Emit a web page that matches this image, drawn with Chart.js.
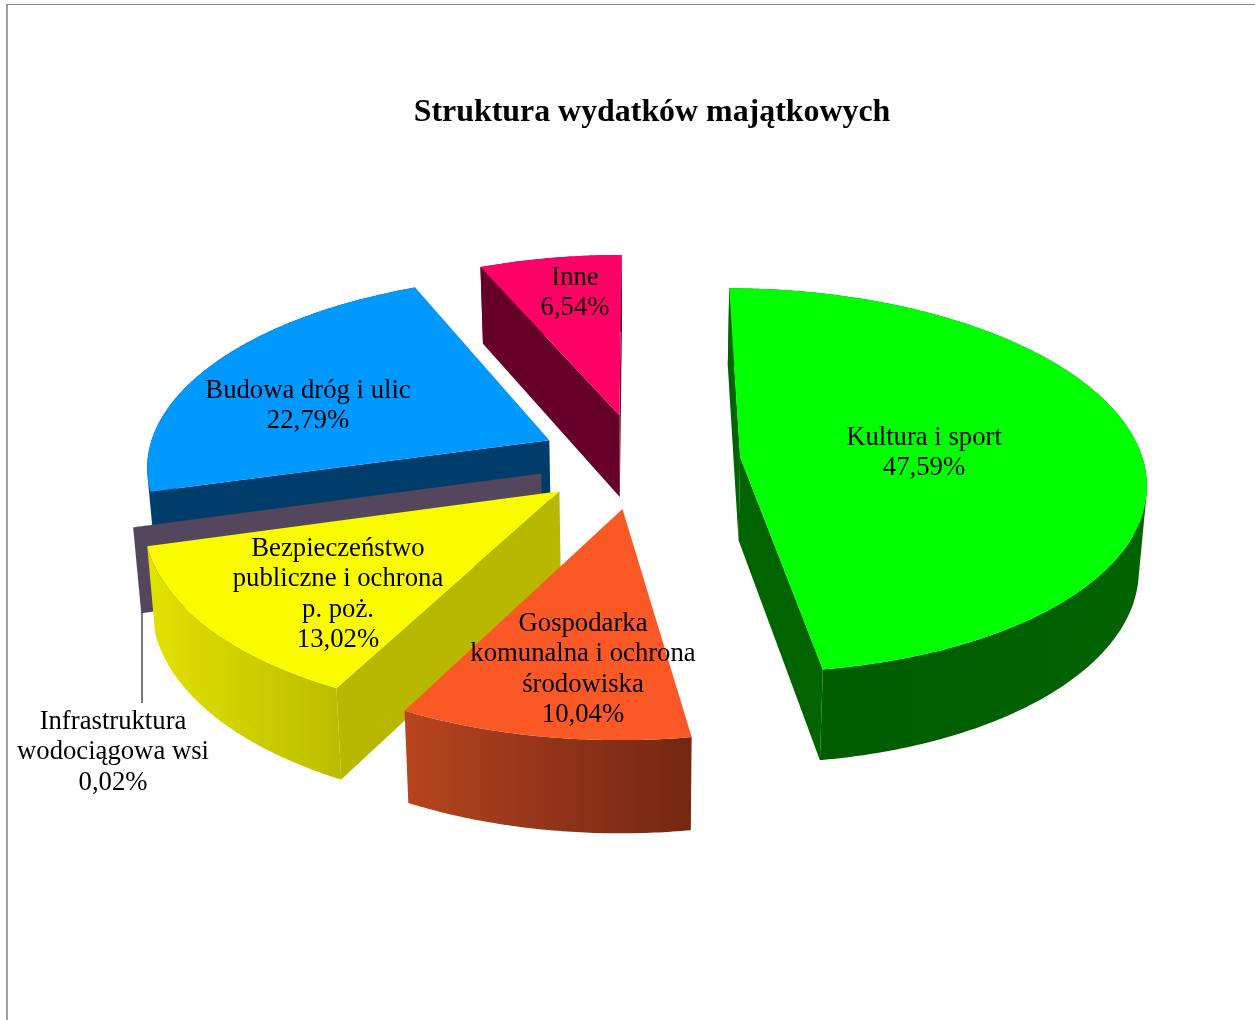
<!DOCTYPE html>
<html lang="pl">
<head>
<meta charset="utf-8">
<title>Struktura wydatków majątkowych</title>
<script src="https://cdn.jsdelivr.net/npm/chart.js@4/dist/chart.umd.min.js"></script>
<style>
html,body{margin:0;padding:0;background:#fff;overflow:hidden;width:1255px;height:1020px}
#frame{position:absolute;left:6px;top:4px;width:1247px;height:1100px;box-sizing:content-box;
border-top:1px solid #8a8a8a;border-left:2px solid #a0a0a0;border-right:1px solid #8f8f8f;border-bottom:0}
canvas{position:absolute;left:0;top:0}
</style>
</head>
<body>
<div id="frame"></div>
<canvas id="c" width="1255" height="1020"></canvas>
<script>
const chartTitle = 'Struktura wydatków majątkowych';
const categories = ['Kultura i sport','Gospodarka komunalna i ochrona środowiska','Bezpieczeństwo publiczne i ochrona p. poż.','Infrastruktura wodociągowa wsi','Budowa dróg i ulic','Inne'];
const values = [47.59, 10.04, 13.02, 0.02, 22.79, 6.54];
const labelLines = [['Kultura i sport'],['Gospodarka','komunalna i ochrona','środowiska'],['Bezpieczeństwo','publiczne i ochrona','p. poż.'],['Infrastruktura','wodociągowa wsi'],['Budowa dróg i ulic'],['Inne']];
const topColors = ['#00FF00','#FA5825','#FBFB00','#54465C','#0099FF','#FF0066'];
const cutWallColors = ['#006400','#8A2C14','#B8B800','#54465C','#003D6B','#660028'];
const arcWallStops = [
  [[0,'#007F00'],[0.18,'#005C00'],[1,'#006400']],
  [[0,'#B8451E'],[0.5,'#93341A'],[1,'#752710']],
  [[0,'#E2E200'],[0.6,'#CCCC00'],[1,'#BDBD00']],
  [[0,'#54465C'],[1,'#54465C']],
  [[0,'#00457A'],[1,'#003D6B']],
  [[0,'#660028'],[1,'#660028']]
];
const labelCenterX = [924, 583, 338, 113, 308, 575];
const labelFirstLineY = [444.5, 630.5, 555.5, 728.5, 397.5, 284.5];
const lineStep = 30.6;
const sliceOffset = 99;

// Perspective view of the pie plane
const view = {cx:639.5, cy:460.5, ax:403, by:190, persp:0.122, depthA:29.5, depthB:54, bottomShrink:0.016};
function project(X, Y, bottom){
  const w = 1 + view.persp * Y;
  let sx = view.cx + view.ax * X / w;
  let sy = view.cy - view.by * Y / w;
  if (bottom){
    sx = view.cx + (sx - view.cx) * (1 - view.bottomShrink);
    sy += view.depthA + view.depthB / w;
  }
  return [sx, sy];
}
function shoelace(p){
  let a = 0;
  for (let i = 0; i < p.length; i++){
    const q = p[(i + 1) % p.length];
    a += p[i][0] * q[1] - q[0] * p[i][1];
  }
  return a / 2;
}
function tracePoly(ctx, pts){
  pts.forEach((p, i) => i ? ctx.lineTo(p[0], p[1]) : ctx.moveTo(p[0], p[1]));
  ctx.closePath();
}
function fillPoly(ctx, pts, style){
  ctx.beginPath();
  tracePoly(ctx, pts);
  ctx.fillStyle = style;
  ctx.fill();
}
const pie3d = {
  id:'pie3d',
  beforeDatasetsDraw(chart){
    const ctx = chart.ctx;
    const arcs = chart.getDatasetMeta(0).data;
    const slices = arcs.map((arc, i) => {
      const R = arc.outerRadius;
      const mid = (arc.startAngle + arc.endAngle) / 2;
      const d = arc.options.offset / R;
      const ox = d * Math.cos(mid), oy = -d * Math.sin(mid);
      return {arc, i, ox, oy};
    }).sort((a, b) => b.oy - a.oy);
    slices.forEach(({arc, i, ox, oy}) => {
      const steps = Math.max(2, Math.ceil((arc.endAngle - arc.startAngle) / 0.01));
      const rim = [];
      for (let s = 0; s <= steps; s++){
        const a = arc.startAngle + (arc.endAngle - arc.startAngle) * s / steps;
        rim.push([ox + Math.cos(a), oy - Math.sin(a)]);
      }
      const rimTop = rim.map(p => project(p[0], p[1], false));
      const rimBot = rim.map(p => project(p[0], p[1], true));
      const apexTop = project(ox, oy, false), apexBot = project(ox, oy, true);
      // outer wall: union of small quads, all wound the same way so the tangent silhouette is filled
      const xs = rimTop.map(p => p[0]);
      const g = ctx.createLinearGradient(Math.min(...xs), 0, Math.max(...xs), 0);
      arcWallStops[i].forEach(s => g.addColorStop(s[0], s[1]));
      ctx.beginPath();
      for (let s = 0; s < steps; s++){
        const q = [rimTop[s], rimTop[s + 1], rimBot[s + 1], rimBot[s]];
        tracePoly(ctx, shoelace(q) < 0 ? q.reverse() : q);
      }
      ctx.fillStyle = g;
      ctx.fill('nonzero');
      // cut walls that face the viewer
      const startWall = [apexTop, rimTop[0], rimBot[0], apexBot];
      const endWall = [rimTop[steps], apexTop, apexBot, rimBot[steps]];
      [startWall, endWall].forEach(q => { if (shoelace(q) < 0) fillPoly(ctx, q, cutWallColors[i]); });
      // top face
      fillPoly(ctx, [apexTop].concat(rimTop), arc.options.backgroundColor);
    });
    return false;
  },
  afterDraw(chart){
    const ctx = chart.ctx;
    // leader line of the very thin slice
    ctx.save();
    ctx.strokeStyle = '#333';
    ctx.lineWidth = 1.3;
    ctx.beginPath();
    ctx.moveTo(142, 612);
    ctx.lineTo(142, 703);
    ctx.stroke();
    ctx.fillStyle = '#000';
    ctx.font = '26.7px "Liberation Serif"';
    ctx.textAlign = 'center';
    ctx.textBaseline = 'alphabetic';
    labelLines.forEach((lines, i) => {
      const all = lines.concat([values[i].toFixed(2).replace('.', ',') + '%']);
      all.forEach((t, k) => ctx.fillText(t, labelCenterX[i], labelFirstLineY[i] + k * lineStep));
    });
    ctx.restore();
  }
};
new Chart(document.getElementById('c'), {
  type:'pie',
  data:{labels:categories, datasets:[{data:values, backgroundColor:topColors, borderWidth:0, offset:sliceOffset}]},
  options:{
    responsive:false, animation:false,
    layout:{padding:{left:49}},
    plugins:{
      legend:{display:false}, tooltip:{enabled:false},
      title:{display:true, text:chartTitle, color:'#000', font:{family:'"Liberation Serif"', size:31.9, weight:'bold'}, padding:{top:94, bottom:0}}
    }
  },
  plugins:[pie3d]
});
</script>
</body>
</html>
